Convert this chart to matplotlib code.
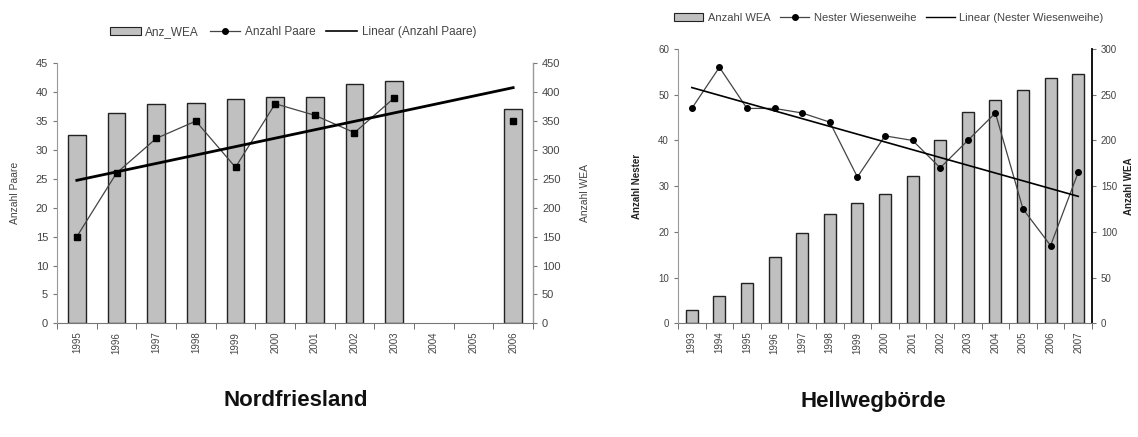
import numpy as np
import matplotlib.pyplot as plt
from matplotlib.patches import Patch
from matplotlib.lines import Line2D

plt.rcParams['font.family'] = ['Liberation Sans', 'DejaVu Sans']

# -----------------------------------
# Data
# -----------------------------------
nf_years = [str(y) for y in range(1995, 2007)]
nf_wea = [326, 364, 379, 382, 388, 392, 392, 415, 420, np.nan, np.nan, 371]
nf_paare = [15, 26, 32, 35, 27, 38, 36, 33, 39, np.nan, np.nan, 35]

hw_years = [str(y) for y in range(1993, 2008)]
hw_wea = [14, 30, 44, 72, 99, 119, 132, 141, 161, 200, 231, 244, 255, 268, 273]
hw_nester = [47, 56, 47, 47, 46, 44, 32, 41, 40, 34, 40, 46, 25, 17, 33]

W, H = 1138, 437
fig = plt.figure(figsize=(W / 100, H / 100), dpi=100)

BAR_COLOR = "#c0c0c0"
TXT = "#444444"


def px_rect(x0, x1, ytop, ybot):
    return [x0 / W, 1 - ybot / H, (x1 - x0) / W, (ybot - ytop) / H]


def panel(rect, years, wea, counts, left_max, left_step, right_max, right_step,
          marker, trend_lw, right_spine_color):
    ax2 = fig.add_axes(rect)          # bars, right scale
    ax = fig.add_axes(rect, sharex=ax2)
    ax.set_zorder(ax2.get_zorder() + 1)
    ax.patch.set_visible(False)

    x = np.arange(len(years))
    ax2.bar(x, wea, width=0.44, color=BAR_COLOR, edgecolor="#222222", linewidth=1.0)

    counts = np.array(counts, dtype=float)
    ax.plot(x, counts, color="#444444", lw=0.9, marker=marker, ms=4,
            mfc="black", mec="black")
    ok = ~np.isnan(counts)
    k, d = np.polyfit(x[ok], counts[ok], 1)
    ax.plot([x[0], x[-1]], [k * x[0] + d, k * x[-1] + d], color="black", lw=trend_lw)

    ax.set_xlim(-0.5, len(years) - 0.5)
    ax.set_ylim(0, left_max)
    ax.set_yticks(np.arange(0, left_max + 0.1, left_step))
    ax2.set_ylim(0, right_max)
    ax2.set_yticks(np.arange(0, right_max + 0.1, right_step))

    # left axis on the top axes, right axis on the bar axes
    ax.yaxis.tick_left()
    ax2.yaxis.tick_right()
    ax2.yaxis.set_label_position("right")
    for s in ["top", "right", "bottom"]:
        ax.spines[s].set_visible(False)
    for s in ["top", "left"]:
        ax2.spines[s].set_visible(False)
    ax.spines["left"].set_color("#999999")
    ax2.spines["bottom"].set_color("#777777")
    ax2.spines["right"].set_color(right_spine_color)
    ax2.spines["right"].set_linewidth(1.3 if right_spine_color == "black" else 1.0)

    ax.tick_params(axis="y", labelsize=8, labelcolor=TXT, color="#777777",
                   length=3, direction="out")
    ax2.tick_params(axis="y", labelsize=8, labelcolor=TXT, color="#777777",
                    length=3, direction="out")

    ax2.set_xticks(x)
    ax2.set_xticklabels(years, rotation=90, fontsize=7, color=TXT)
    ax2.set_xticks(np.arange(len(years) + 1) - 0.5, minor=True)
    ax2.tick_params(axis="x", which="major", length=0, pad=6)
    ax2.tick_params(axis="x", which="minor", length=4, color="#555555")
    ax.tick_params(axis="x", which="both", bottom=False, labelbottom=False)
    return ax, ax2


# -----------------------------------
# Nordfriesland
# -----------------------------------
ax, ax2 = panel(px_rect(57, 533, 63.3, 323.3), nf_years, nf_wea, nf_paare,
                45, 5, 450, 50, "s", 2.0, "#999999")
ax.set_ylabel("Anzahl Paare", fontsize=7.5, color=TXT)
ax.yaxis.set_label_coords((20 - 57) / (533 - 57), 0.5)
ax2.set_ylabel("Anzahl WEA", fontsize=7.5, color=TXT, rotation=90)
ax2.yaxis.set_label_coords((580 - 57) / (533 - 57), 0.5)

handles = [Patch(facecolor=BAR_COLOR, edgecolor="#222222", lw=0.8),
           Line2D([], [], color="#444444", lw=0.9, marker="o", ms=4, mfc="black", mec="black"),
           Line2D([], [], color="black", lw=1.2)]
fig.legend(handles, ["Anz_WEA", "Anzahl Paare", "Linear (Anzahl Paare)"],
           loc="center", bbox_to_anchor=(293 / W, 1 - 32 / H), ncol=3, frameon=False,
           fontsize=8.5, labelcolor=TXT, handlelength=2.6, handletextpad=0.4,
           columnspacing=0.9)

# -----------------------------------
# Hellwegboerde
# -----------------------------------
bx, bx2 = panel(px_rect(678, 1092, 49, 323.3), hw_years, hw_wea, hw_nester,
                60, 10, 300, 50, "o", 1.2, "black")
bx.set_ylabel("Anzahl Nester", fontsize=7, color="#222222", fontweight="bold")
bx.yaxis.set_label_coords((642 - 678) / (1092 - 678), 0.5)
bx2.set_ylabel("Anzahl WEA", fontsize=7, color="#222222", fontweight="bold", rotation=90)
bx2.yaxis.set_label_coords((1124 - 678) / (1092 - 678), 0.5)
bx.tick_params(axis="y", labelsize=7)
bx2.tick_params(axis="y", labelsize=7)

handles = [Patch(facecolor=BAR_COLOR, edgecolor="#222222", lw=0.8),
           Line2D([], [], color="#444444", lw=0.9, marker="o", ms=4, mfc="black", mec="black"),
           Line2D([], [], color="black", lw=1.0)]
fig.legend(handles, ["Anzahl WEA", "Nester Wiesenweihe", "Linear (Nester Wiesenweihe)"],
           loc="center", bbox_to_anchor=(889 / W, 1 - 18 / H), ncol=3, frameon=False,
           fontsize=8, labelcolor=TXT, handlelength=2.6, handletextpad=0.4,
           columnspacing=0.9)

# -----------------------------------
# Region titles
# -----------------------------------
fig.text(296 / W, 1 - 401 / H, "Nordfriesland", ha="center", va="center",
         fontsize=16, fontweight="bold", color="#111111")
fig.text(873 / W, 1 - 401 / H, "Hellwegbörde", ha="center", va="center",
         fontsize=16, fontweight="bold", color="#111111")

fig.savefig("out.png", dpi=100)
